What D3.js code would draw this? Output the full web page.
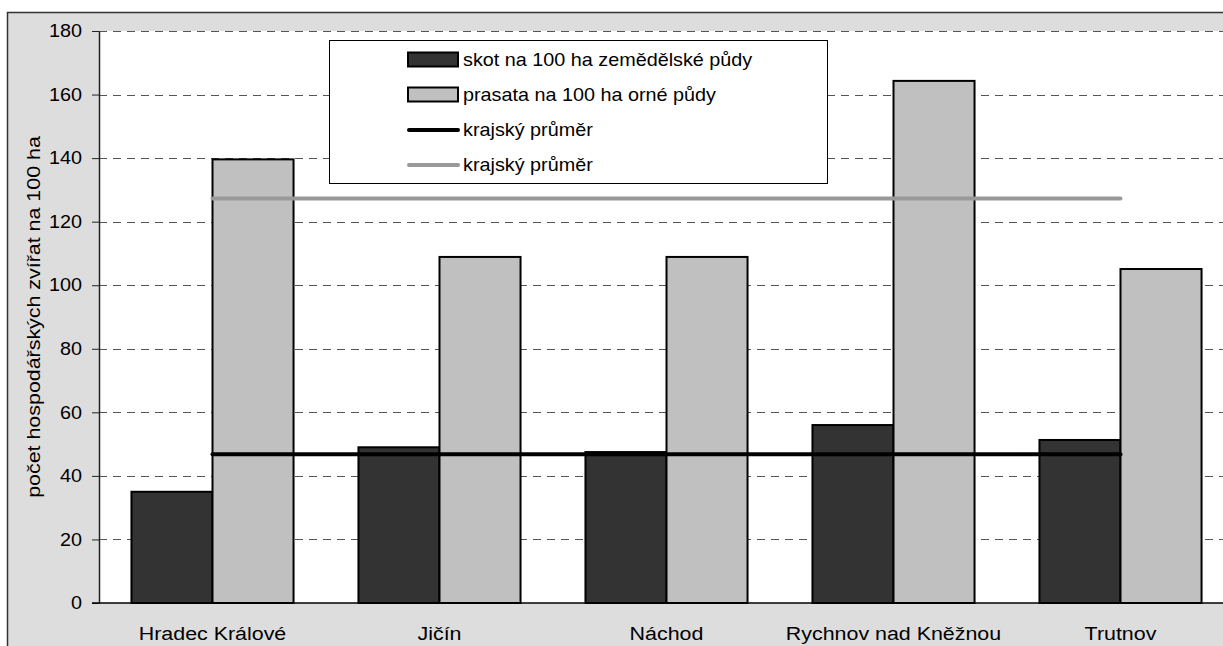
<!DOCTYPE html>
<html>
<head>
<meta charset="utf-8">
<script src="https://cdn.jsdelivr.net/npm/d3@7"></script>
<style>
	body { margin: 0; background: #fff; }
	svg { display: block; font-family: "Liberation Sans", Arial, sans-serif; }
</style>
</head>
<body>
<div id="chart"></div>
<script>
const categories = ["Hradec Králové", "Jičín", "Náchod", "Rychnov nad Kněžnou", "Trutnov"];
const skot = [35, 49, 47.5, 56, 51.3];
const prasata = [139.6, 108.9, 108.9, 164.3, 105.1];
const skotAvg = 46.8;
const prasataAvg = 127.3;
const yTicks = [0, 20, 40, 60, 80, 100, 120, 140, 160, 180];
const seriesNames = ["skot na 100 ha zemědělské půdy", "prasata na 100 ha orné půdy", "krajský průměr", "krajský průměr"];
const yTitle = "počet hospodářských zvířat na 100 ha";

const width = 1223, height = 646;
const plot = { left: 99, right: 1234, top: 31, bottom: 603 };
const fontSize = 18;
const stretch = 1.1;      // the original picture is a little wider than tall
const catStretch = 1.19;  // category labels come out a bit wider still
const titleStretch = 1.19;

const svg = d3.select("#chart").append("svg")
	.attr("width", width)
	.attr("height", height);

// chart area frame (cut off at right and bottom like the original)
svg.append("rect")
	.attr("x", 7.5).attr("y", 12.5)
	.attr("width", width + 20).attr("height", height + 20)
	.attr("fill", "#dddddd")
	.attr("stroke", "#333")
	.attr("stroke-width", 1.5);

svg.append("rect")
	.attr("x", plot.left).attr("y", plot.top)
	.attr("width", plot.right - plot.left).attr("height", plot.bottom - plot.top)
	.attr("fill", "#fff");

const y = d3.scaleLinear().domain([0, 180]).range([plot.bottom, plot.top]);

const x0 = d3.scaleBand()
	.domain(categories)
	.range([plot.left, plot.right])
	.paddingInner(0.286)
	.paddingOuter(0.143);

const x1 = d3.scaleBand()
	.domain(["skot", "prasata"])
	.range([0, x0.bandwidth()]);

const colors = { skot: "#333333", prasata: "#c0c0c0" };

// dashed gridlines
svg.append("g")
	.selectAll("line")
	.data(yTicks.filter(d => d > 0))
	.enter()
	.append("line")
	.attr("x1", plot.left).attr("x2", plot.right)
	.attr("y1", d => Math.round(y(d)) + 0.5)
	.attr("y2", d => Math.round(y(d)) + 0.5)
	.attr("stroke", "#555")
	.attr("stroke-dasharray", "8,6");

// bars
const rows = categories.map((c, i) => ({ cat: c, values: [
	{ key: "skot", value: skot[i] },
	{ key: "prasata", value: prasata[i] }
] }));

svg.append("g")
	.selectAll("g")
	.data(rows)
	.enter()
	.append("g")
	.attr("transform", d => "translate(" + x0(d.cat) + ",0)")
	.selectAll("rect")
	.data(d => d.values)
	.enter()
	.append("rect")
	.attr("x", d => x1(d.key))
	.attr("width", x1.bandwidth())
	.attr("y", d => y(d.value))
	.attr("height", d => y(0) - y(d.value))
	.attr("fill", d => colors[d.key])
	.attr("stroke", "#000")
	.attr("stroke-width", 2);

// average lines at category centres
const centre = c => x0(c) + x0.bandwidth() / 2;
const avgLine = d3.line().x(d => centre(d.cat)).y(d => y(d.v));

[[skotAvg, "#000"], [prasataAvg, "#999999"]].forEach(([v, col]) => {
	svg.append("path")
		.datum(categories.map(c => ({ cat: c, v: v })))
		.attr("d", avgLine)
		.attr("fill", "none")
		.attr("stroke", col)
		.attr("stroke-width", 4)
		.attr("stroke-linecap", "round");
});

// y axis
const yAxis = svg.append("g")
	.attr("transform", "translate(" + plot.left + ",0)")
	.call(d3.axisLeft(y).tickValues(yTicks).tickSize(7).tickPadding(8.5).tickSizeOuter(0));
yAxis.select(".domain").attr("stroke", "#222").attr("stroke-width", 1.5);
yAxis.selectAll(".tick line").attr("stroke", "#222");
yAxis.selectAll("text")
	.attr("font-size", fontSize).attr("fill", "#000")
	.attr("font-family", "Liberation Sans, Arial, sans-serif")
	.attr("transform", "scale(" + stretch + ",1)");

// x axis
const xAxis = svg.append("g")
	.attr("transform", "translate(0," + plot.bottom + ")")
	.call(d3.axisBottom(x0).tickSize(0).tickPadding(24).tickSizeOuter(0));
xAxis.select(".domain").attr("stroke", "#000").attr("stroke-width", 1.5)
	.attr("d", "M" + (plot.left - 7) + ",0H" + plot.right);
xAxis.selectAll("text")
	.attr("font-size", fontSize).attr("fill", "#000")
	.attr("font-family", "Liberation Sans, Arial, sans-serif")
	.attr("transform", "scale(" + catStretch + ",1)");

// y title
svg.append("text")
	.attr("transform", "translate(40," + (plot.top + plot.bottom) / 2 + ") rotate(-90) scale(" + titleStretch + ",1)")
	.attr("text-anchor", "middle")
	.attr("font-size", fontSize)
	.text(yTitle);

// legend
const legend = svg.append("g");
legend.append("rect")
	.attr("x", 329.5).attr("y", 40.5)
	.attr("width", 498).attr("height", 143)
	.attr("fill", "#fff")
	.attr("stroke", "#000")
	.attr("stroke-width", 1);

const legendRows = seriesNames.map((name, i) => ({ name: name, i: i }));
const ly = d3.scalePoint().domain(d3.range(4)).range([60, 165]);

const item = legend.selectAll("g.item")
	.data(legendRows)
	.enter()
	.append("g")
	.attr("class", "item")
	.attr("transform", d => "translate(0," + ly(d.i) + ")");

item.filter(d => d.i < 2).append("rect")
	.attr("x", 408).attr("y", -7.5)
	.attr("width", 50).attr("height", 14)
	.attr("fill", d => d.i === 0 ? colors.skot : colors.prasata)
	.attr("stroke", "#000")
	.attr("stroke-width", 2);

item.filter(d => d.i >= 2).append("line")
	.attr("x1", 409).attr("x2", 458)
	.attr("stroke", d => d.i === 2 ? "#000" : "#999999")
	.attr("stroke-width", 4)
	.attr("stroke-linecap", "round");

item.append("text")
	.attr("transform", "translate(463,0) scale(" + stretch + ",1)")
	.attr("dy", "0.35em")
	.attr("font-size", fontSize)
	.text(d => d.name);
</script>
</body>
</html>
